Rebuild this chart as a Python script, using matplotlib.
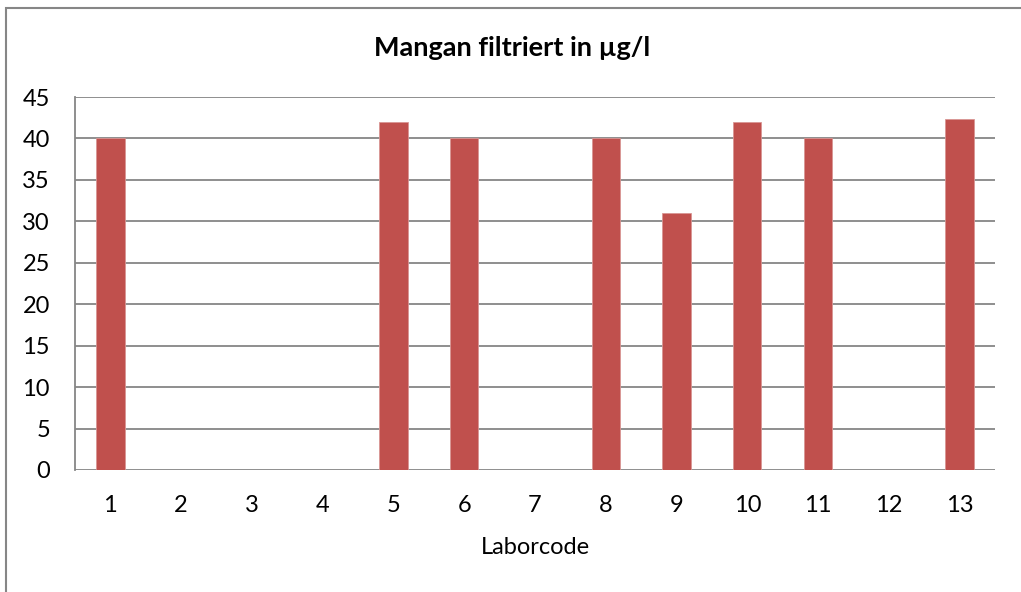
import matplotlib
matplotlib.use("Agg")
import matplotlib.pyplot as plt
from matplotlib.patches import Rectangle

categories = ["1", "2", "3", "4", "5", "6", "7", "8", "9", "10", "11", "12", "13"]
values = [40, 0, 0, 0, 42, 40, 0, 40, 31, 42, 40, 0, 42.3]
yticks = [0, 5, 10, 15, 20, 25, 30, 35, 40, 45]

plt.rcParams['font.family'] = ['Lato', 'DejaVu Sans']

W, H = 1021, 592
fig = plt.figure(figsize=(W / 100, H / 100), dpi=100)
ax = fig.add_axes([75 / W, 1 - 470 / H, (995 - 75) / W, (470 - 97) / H])

x = list(range(len(categories)))
ax.bar(x, values, width=0.4, color="#C0504D", edgecolor="#D99694", linewidth=0.6, zorder=3)
ax.set_xlim(-0.5, len(categories) - 0.5)
ax.set_ylim(0, 45)
ax.set_yticks(yticks)
ax.set_xticks(x)
ax.set_xticklabels(categories)
ax.yaxis.grid(True, color="#868686", linewidth=1.3, zorder=0)
for s in ["top", "right", "bottom"]:
    ax.spines[s].set_visible(False)
ax.spines["left"].set_color("#868686")
ax.spines["left"].set_linewidth(1.3)
ax.tick_params(axis="both", length=0, labelsize=17, colors="black")
ax.tick_params(axis="y", pad=18)
ax.tick_params(axis="x", pad=18)
ax.set_xlabel("Laborcode", fontsize=17, labelpad=15)
fig.text(512 / W, 1 - 48 / H, "Mangan filtriert in µg/l", ha="center", va="center",
         fontsize=19.5, fontweight="bold")

fig.patches.append(Rectangle((6 / W, -0.1), 1.2, 1 - 8 / H + 0.1, transform=fig.transFigure,
                             fill=False, edgecolor="#868686", linewidth=1.5, figure=fig))
fig.savefig("out.png", dpi=100)
